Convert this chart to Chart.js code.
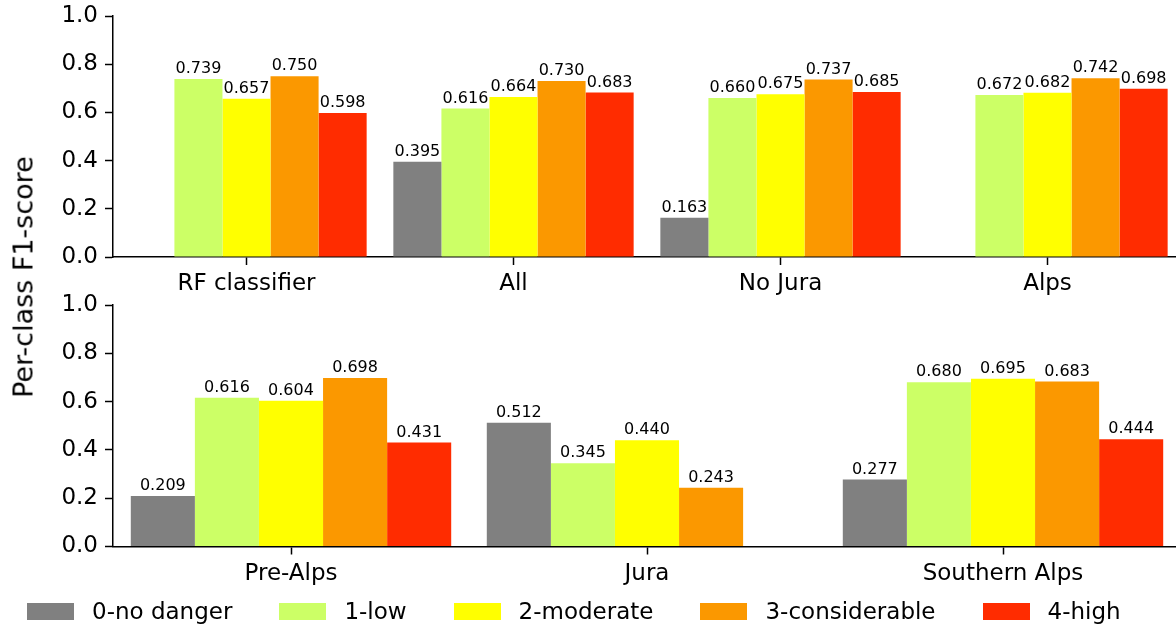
<!DOCTYPE html>
<html>
<head>
<meta charset="utf-8">
<script src="https://cdn.jsdelivr.net/npm/chart.js@4/dist/chart.umd.min.js"></script>
<style>
  html, body { margin: 0; padding: 0; background: #fff; overflow: hidden; width: 1176px; height: 626px; }
  body { position: relative; font-family: "DejaVu Sans", sans-serif; color: #000; }
  .box { position: absolute; left: 0; width: 1181px; }
  #topBox { top: 0; height: 305px; }
  #botBox { top: 290px; height: 336px; }
  #ylabel {
    position: absolute; left: 23px; top: 277px;
    transform: translate(-50%, -50%) rotate(-90deg);
    font-size: 27px; white-space: nowrap;
  }
  #legend {
    position: absolute; left: 27px; top: 598px;
    display: flex; align-items: center; font-size: 23px; white-space: nowrap;
  }
  .item { display: flex; align-items: center; margin-right: 47px; }
  .patch { width: 47px; height: 17px; margin-right: 18px; }
</style>
</head>
<body>
<div class="box" id="topBox"><canvas id="topChart"></canvas></div>
<div class="box" id="botBox"><canvas id="botChart"></canvas></div>
<div id="ylabel">Per-class F1-score</div>
<div id="legend"></div>
<script>
// Danger levels and their colours
const classes = ['0-no danger', '1-low', '2-moderate', '3-considerable', '4-high'];
const classColors = ['#808080', '#ccff66', '#ffff00', '#fb9800', '#ff2c00'];

// Upper panel: classifier and combined region sets
const topGroups = ['RF classifier', 'All', 'No Jura', 'Alps'];
const topNoDanger     = [null, 0.395, 0.163, null];
const topLow          = [0.739, 0.616, 0.660, 0.672];
const topModerate     = [0.657, 0.664, 0.675, 0.682];
const topConsiderable = [0.750, 0.730, 0.737, 0.742];
const topHigh         = [0.598, 0.683, 0.685, 0.698];

// Lower panel: individual regions
const botGroups = ['Pre-Alps', 'Jura', 'Southern Alps'];
const botNoDanger     = [0.209, 0.512, 0.277];
const botLow          = [0.616, 0.345, 0.680];
const botModerate     = [0.604, 0.440, 0.695];
const botConsiderable = [0.698, 0.243, 0.683];
const botHigh         = [0.431, null, 0.444];

// y-axis ticks
const yTicks = [0.0, 0.2, 0.4, 0.6, 0.8, 1.0];

const FONT = '"DejaVu Sans", sans-serif';

// Writes each bar's value just above it
const valueLabels = {
  id: 'valueLabels',
  afterDatasetsDraw(chart) {
    const ctx = chart.ctx;
    ctx.save();
    ctx.font = '16px ' + FONT;
    ctx.fillStyle = '#000';
    ctx.textAlign = 'center';
    ctx.textBaseline = 'bottom';
    chart.data.datasets.forEach((ds, di) => {
      const meta = chart.getDatasetMeta(di);
      meta.data.forEach((bar, i) => {
        const v = ds.data[i];
        if (v === null || v === undefined) return;
        ctx.fillText(v.toFixed(3), bar.x, bar.y - 2);
      });
    });
    ctx.restore();
  }
};

function makeChart(id, labels, series, padTop, xHeight, xPad) {
  return new Chart(document.getElementById(id), {
    type: 'bar',
    data: {
      labels: labels,
      datasets: series.map((vals, k) => ({
        label: classes[k],
        data: vals,
        backgroundColor: classColors[k],
        borderWidth: 0,
        categoryPercentage: 0.9,
        barPercentage: 1.0
      }))
    },
    options: {
      responsive: true,
      maintainAspectRatio: false,
      animation: false,
      events: [],
      layout: { padding: { top: padTop, right: 0, left: 0, bottom: 0 } },
      plugins: { legend: { display: false }, tooltip: { enabled: false } },
      scales: {
        x: {
          offset: true,
          grid: { display: true, drawOnChartArea: false, drawTicks: true, tickLength: 8, tickWidth: 1.5, color: '#000', offset: false },
          border: { display: true, color: '#000', width: 1.5 },
          ticks: { font: { family: FONT, size: 23 }, color: '#000', padding: xPad, maxRotation: 0 },
          afterFit(scale) {
            scale.height = xHeight;
            scale.paddingLeft = 0; scale.paddingRight = 0;
          }
        },
        y: {
          min: 0, max: 1,
          afterBuildTicks(scale) { scale.ticks = yTicks.map(v => ({ value: v })); },
          grid: { display: true, drawOnChartArea: false, drawTicks: true, tickLength: 8, tickWidth: 1.5, color: '#000' },
          border: { display: true, color: '#000', width: 1.5 },
          ticks: { font: { family: FONT, size: 23 }, color: '#000', padding: 7, callback: v => v.toFixed(1) },
          afterFit(scale) {
            scale.width = 113;
            scale.paddingTop = 0; scale.paddingBottom = 0;
          }
        }
      }
    },
    plugins: [valueLabels]
  });
}

makeChart('topChart', topGroups,
  [topNoDanger, topLow, topModerate, topConsiderable, topHigh], 16, 305 - 257, 5);
makeChart('botChart', botGroups,
  [botNoDanger, botLow, botModerate, botConsiderable, botHigh], 15, 336 - 256.5, 6);

// Shared legend
const legend = document.getElementById('legend');
classes.forEach((name, k) => {
  const item = document.createElement('div');
  item.className = 'item';
  const patch = document.createElement('div');
  patch.className = 'patch';
  patch.style.background = classColors[k];
  const text = document.createElement('span');
  text.textContent = name;
  item.appendChild(patch);
  item.appendChild(text);
  legend.appendChild(item);
});
</script>
</body>
</html>
